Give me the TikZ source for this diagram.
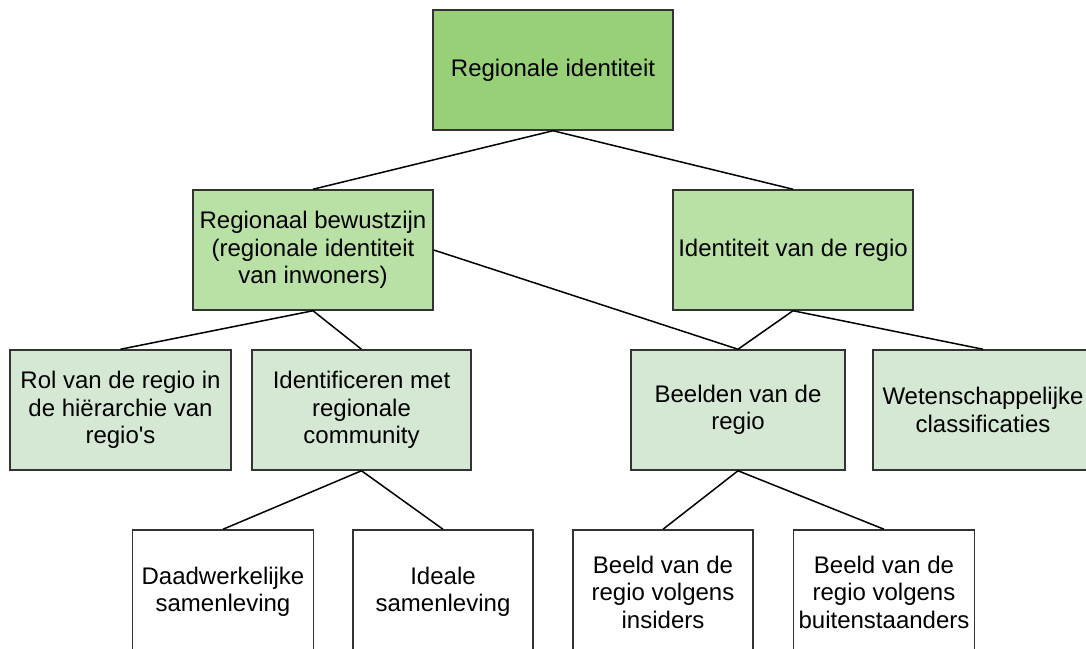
\documentclass[tikz,border=0pt]{standalone}
\usepackage{fontspec}
\setmainfont{Liberation Sans}[Ligatures=TeXOff]
\definecolor{gA}{HTML}{97D077}
\definecolor{gB}{HTML}{B9E0A5}
\definecolor{gC}{HTML}{D5E8D4}
\definecolor{bd}{HTML}{333333}
\begin{document}
\begin{tikzpicture}[x=1pt,y=-1pt,
  box/.style={rectangle,draw=bd,line width=1.5pt,inner sep=0pt,align=center,
    font=\fontsize{24}{27.5}\selectfont,minimum height=120pt},
  lvA/.style={box,fill=gA,minimum width=240pt},
  lvB/.style={box,fill=gB,minimum width=240pt},
  lvC/.style={box,fill=gC},
  lvD/.style={box,fill=white},
  conn/.style={draw=black,line width=1.5pt}]
\useasboundingbox (0,0) rectangle (1086,648);
\clip (0,0) rectangle (1086,648);
\node[lvA] (top) at (553,70) {Regionale identiteit};
\node[lvB] (rb) at (313,250) {Regionaal bewustzijn\\(regionale identiteit\\van inwoners)};
\node[lvB] (idr) at (793,250) {Identiteit van de regio};
\node[lvC,minimum width=221pt] (rol) at (120.5,410) {Rol van de regio in\\de hiërarchie van\\regio's};
\node[lvC,minimum width=219pt] (ident) at (361.5,410) {Identificeren met\\regionale\\community};
\node[lvC,minimum width=214pt] (beel) at (738,410) {Beelden van de\\regio};
\node[lvC,minimum width=220pt] (wet) at (983,410) {Wetenschappelijke\\classificaties};
\node[lvD,minimum width=181pt,minimum height=124pt] (daad) at (223,592) {Daadwerkelijke\\samenleving};
\node[lvD,minimum width=180pt,minimum height=124pt] (ideal) at (443,592) {Ideale\\samenleving};
\node[lvD,minimum width=180pt,minimum height=124pt] (ins) at (663,592) {Beeld van de\\regio volgens\\insiders};
\node[lvD,minimum width=181pt,minimum height=124pt] (buit) at (884,592) {Beeld van de\\regio volgens\\buitenstaanders};
\draw[conn] (top.south) -- (rb.north);
\draw[conn] (top.south) -- (idr.north);
\draw[conn] (rb.south) -- (rol.north);
\draw[conn] (rb.south) -- (ident.north);
\draw[conn] (rb.east) -- (beel.north);
\draw[conn] (idr.south) -- (beel.north);
\draw[conn] (idr.south) -- (wet.north);
\draw[conn] (ident.south) -- (daad.north);
\draw[conn] (ident.south) -- (ideal.north);
\draw[conn] (beel.south) -- (ins.north);
\draw[conn] (beel.south) -- (buit.north);
\end{tikzpicture}
\end{document}
